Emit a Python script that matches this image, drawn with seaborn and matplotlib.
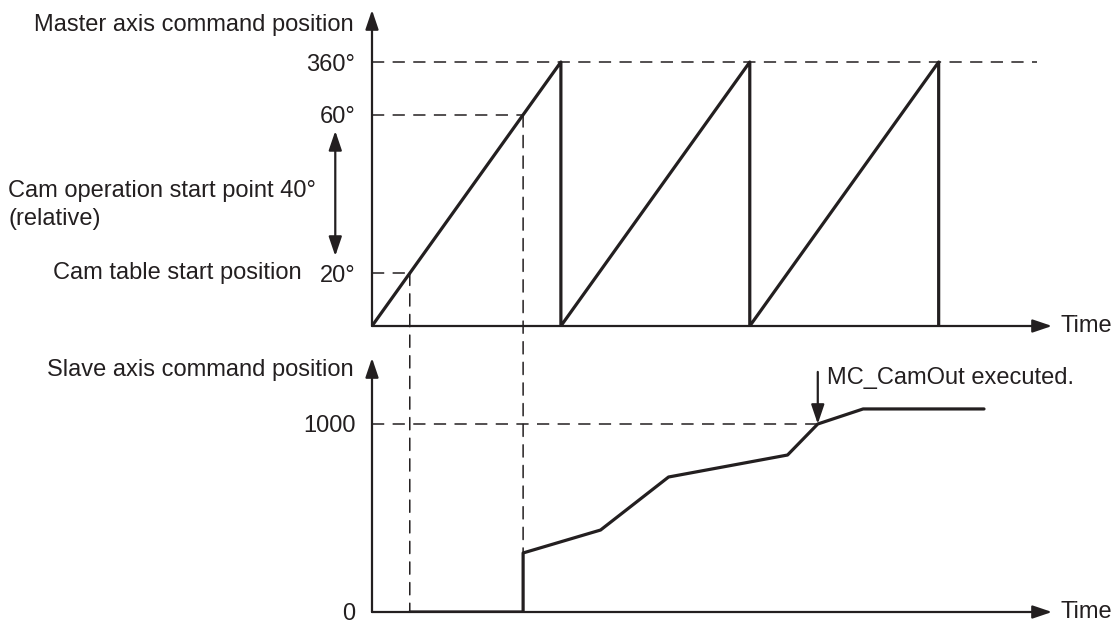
import matplotlib
matplotlib.use("Agg")
import matplotlib.pyplot as plt
from matplotlib.patches import ConnectionPatch
import seaborn as sns
import pandas as pd

# ---------------- data ----------------
# master axis: sawtooth (time in cycle units, position as fraction of full scale)
master_time = [0, 1, 1, 2, 2, 3, 3]
master_pos = [0, 1, 0, 1, 0, 1, 0]
master_tick_pos = [0.2, 0.8, 1.0]
master_tick_labels = ["20°", "60°", "360°"]

# slave axis command position
slave_time = [0.2, 0.8, 0.8, 1.21, 1.57, 2.2, 2.36, 2.6, 3.24]
slave_pos = [0, 0, 314, 436, 718, 835, 1000, 1080, 1080]
slave_tick_pos = [0, 1000]
slave_tick_labels = ["0", "1000"]

cam_start_time = 0.2     # master at 20°
cam_op_time = 0.8        # master at 60°
camout_time = 2.36       # MC_CamOut executed
camout_level = 1000

INK = "#231f20"

sns.set_theme(style="white")
plt.rcParams["font.family"] = ["Liberation Sans", "DejaVu Sans"]
FS = 17

fig = plt.figure(figsize=(11.19, 6.25), dpi=100)
W, H = 1119, 625
ax_left, ax_right = 372, 1052

def rect(top_px, bottom_px):
    return [ax_left / W, (H - bottom_px) / H, (ax_right - ax_left) / W, (bottom_px - top_px) / H]

ax1 = fig.add_axes(rect(10, 326))
ax2 = fig.add_axes(rect(358, 612))

for ax in (ax1, ax2):
    ax.set_xlim(0, 3.6)
    for s in ax.spines.values():
        s.set_visible(False)
    ax.set_xticks([])
    ax.tick_params(axis="y", length=0, pad=12, labelsize=FS, labelcolor=INK)
    ax.set_facecolor("none")
    # axis arrows
    arrow = dict(arrowstyle="-|>,head_length=0.65,head_width=0.22", lw=1.6, color=INK,
                 mutation_scale=18, shrinkA=0, shrinkB=0)
    ax.annotate("", xy=(1, 0), xytext=(0, 0), xycoords="axes fraction", arrowprops=arrow)
    ax.annotate("", xy=(0, 1), xytext=(0, 0), xycoords="axes fraction", arrowprops=arrow)
    ax.text(1.012, 0, "Time", transform=ax.get_yaxis_transform(), ha="left", va="center",
            fontsize=FS, color=INK)

ax1.set_ylim(0, 1.197)
ax2.set_ylim(0, 1351)

ax1.set_yticks(master_tick_pos, master_tick_labels)
ax2.set_yticks(slave_tick_pos, slave_tick_labels)

dash = (0, (8, 5.5))
DLW = 1.1

# master sawtooth
df_m = pd.DataFrame({"t": master_time, "p": master_pos})
sns.lineplot(data=df_m, x="t", y="p", ax=ax1, sort=False, estimator=None,
             color=INK, lw=2.3)
ax1.set_xlabel(""); ax1.set_ylabel("")

# guide lines on master
ax1.plot([0, 3.52], [1.0, 1.0], ls=dash, lw=DLW, color=INK)
ax1.plot([0, cam_op_time], [0.8, 0.8], ls=dash, lw=DLW, color=INK)
ax1.plot([0, cam_start_time], [0.2, 0.2], ls=dash, lw=DLW, color=INK)

# slave curve
df_s = pd.DataFrame({"t": slave_time, "p": slave_pos})
sns.lineplot(data=df_s, x="t", y="p", ax=ax2, sort=False, estimator=None,
             color=INK, lw=2.3)
ax2.set_xlabel(""); ax2.set_ylabel("")
ax2.plot([0, camout_time], [camout_level, camout_level], ls=dash, lw=DLW, color=INK)

# vertical dashed connectors across both panels
for t, p in [(cam_start_time, 0.2), (cam_op_time, 0.8)]:
    con = ConnectionPatch(xyA=(t, p), coordsA=ax1.transData, xyB=(t, 0), coordsB=ax2.transData,
                          ls=dash, lw=DLW, color=INK)
    fig.add_artist(con)

# labels
ax1.text(-0.0265, 1.14, "Master axis command position", transform=ax1.get_yaxis_transform(),
         ha="right", va="center", fontsize=FS, color=INK)
ax1.text(-0.535, 0.511, "Cam operation start point 40°", transform=ax1.get_yaxis_transform(),
         ha="left", va="center", fontsize=FS, color=INK)
ax1.text(-0.535, 0.405, "(relative)", transform=ax1.get_yaxis_transform(),
         ha="left", va="center", fontsize=FS, color=INK)
ax1.text(-0.103, 0.2, "Cam table start position", transform=ax1.get_yaxis_transform(),
         ha="right", va="center", fontsize=FS, color=INK)
ax1.annotate("", xy=(-0.054, 0.739), xytext=(-0.054, 0.265),
             xycoords=ax1.get_yaxis_transform(),
             arrowprops=dict(arrowstyle="<|-|>,head_length=0.65,head_width=0.22", lw=1.6,
                             color=INK, mutation_scale=18, shrinkA=0, shrinkB=0),
             annotation_clip=False)

ax2.text(-0.0265, 1287, "Slave axis command position", transform=ax2.get_yaxis_transform(),
         ha="right", va="center", fontsize=FS, color=INK)

ax2.annotate("", xy=(camout_time, camout_level), xytext=(camout_time, 1277),
             arrowprops=dict(arrowstyle="-|>,head_length=0.65,head_width=0.22", lw=1.6,
                             color=INK, mutation_scale=18, shrinkA=0, shrinkB=0),
             annotation_clip=False)
ax2.text(2.41, 1245, "MC_CamOut executed.", ha="left", va="center", fontsize=FS, color=INK)

fig.savefig("out.png", dpi=100, facecolor="white")
